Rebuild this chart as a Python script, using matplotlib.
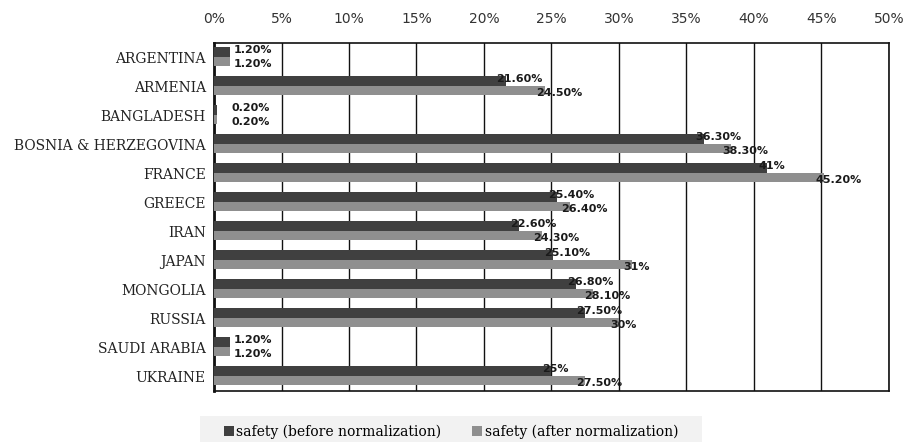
import numpy as np
import matplotlib.pyplot as plt
from matplotlib.ticker import FuncFormatter
import matplotlib.transforms as mtransforms

# --- Dados ---
countries = ['ARGENTINA', 'ARMENIA', 'BANGLADESH', 'BOSNIA & HERZEGOVINA', 'FRANCE',
             'GREECE', 'IRAN', 'JAPAN', 'MONGOLIA', 'RUSSIA', 'SAUDI ARABIA', 'UKRAINE']
before = [1.2, 21.6, 0.2, 36.3, 41, 25.4, 22.6, 25.1, 26.8, 27.5, 1.2, 25]
after = [1.2, 24.5, 0.2, 38.3, 45.2, 26.4, 24.3, 31, 28.1, 30, 1.2, 27.5]
before_labels = ['1.20%', '21.60%', '0.20%', '36.30%', '41%', '25.40%',
                 '22.60%', '25.10%', '26.80%', '27.50%', '1.20%', '25%']
after_labels = ['1.20%', '24.50%', '0.20%', '38.30%', '45.20%', '26.40%',
                '24.30%', '31%', '28.10%', '30%', '1.20%', '27.50%']

c_before = '#404040'
c_after = '#8f8f8f'

fig = plt.figure(figsize=(9.07, 4.42), dpi=100)
ax = fig.add_axes([0.236, 0.1154, 0.744, 0.7873])

y = np.arange(len(countries))
h = 0.33
ax.barh(y - h / 2 - 0.03, before, height=h, color=c_before, zorder=3,
        label='safety (before normalization)')
ax.barh(y + h / 2 - 0.03, after, height=h, color=c_after, zorder=3,
        label='safety (after normalization)')

# --- Rótulos de valor ---
def put_label(v, yy, txt):
    if v < 5:
        tr = ax.transData + mtransforms.ScaledTranslation(3 / 100, 0, fig.dpi_scale_trans)
        xv = max(v, 1.1)
    else:
        tr = ax.transData + mtransforms.ScaledTranslation(-9 / 100, 0, fig.dpi_scale_trans)
        xv = v
    ax.text(xv, yy, txt, transform=tr, ha='left', va='center', fontsize=8,
            fontweight='bold', color='#1a1a1a', family='DejaVu Sans', zorder=4)

for i in range(len(countries)):
    put_label(before[i], y[i] - h / 2 - 0.1, before_labels[i])
    put_label(after[i], y[i] + h / 2 + 0.05, after_labels[i])

ax.set_xlim(0, 50)
ax.set_ylim(len(countries) - 0.5, -0.5)
ax.set_xticks(np.arange(0, 51, 5))
ax.xaxis.set_major_formatter(FuncFormatter(lambda v, p: f'{v:.0f}%'))
ax.xaxis.tick_top()
ax.tick_params(axis='x', length=0, pad=12, labelsize=10, labelcolor='#333333')
ax.tick_params(axis='y', length=0, pad=6)
ax.set_yticks(y)
ax.set_yticklabels(countries, family='DejaVu Serif', fontsize=10, color='#222222')
ax.grid(axis='x', color='#111111', linewidth=1.0, zorder=1)
for s in ax.spines.values():
    s.set_color('#111111')
    s.set_linewidth(1.2)
ax.spines['left'].set_linewidth(2.0)

# --- Legenda ---
box = plt.Rectangle((200 / 907, 0), 502 / 907, 26 / 442, transform=fig.transFigure,
                    facecolor='#f2f2f2', edgecolor='none', zorder=0)
fig.patches.append(box)
fig.legend(loc='center', bbox_to_anchor=(451 / 907, 10 / 442), ncol=2, frameon=False,
           handlelength=0.7, handleheight=0.7, handletextpad=0.2, borderaxespad=0,
           columnspacing=2.2, prop={'family': 'DejaVu Serif', 'size': 10})

fig.savefig('out.png', dpi=100)
